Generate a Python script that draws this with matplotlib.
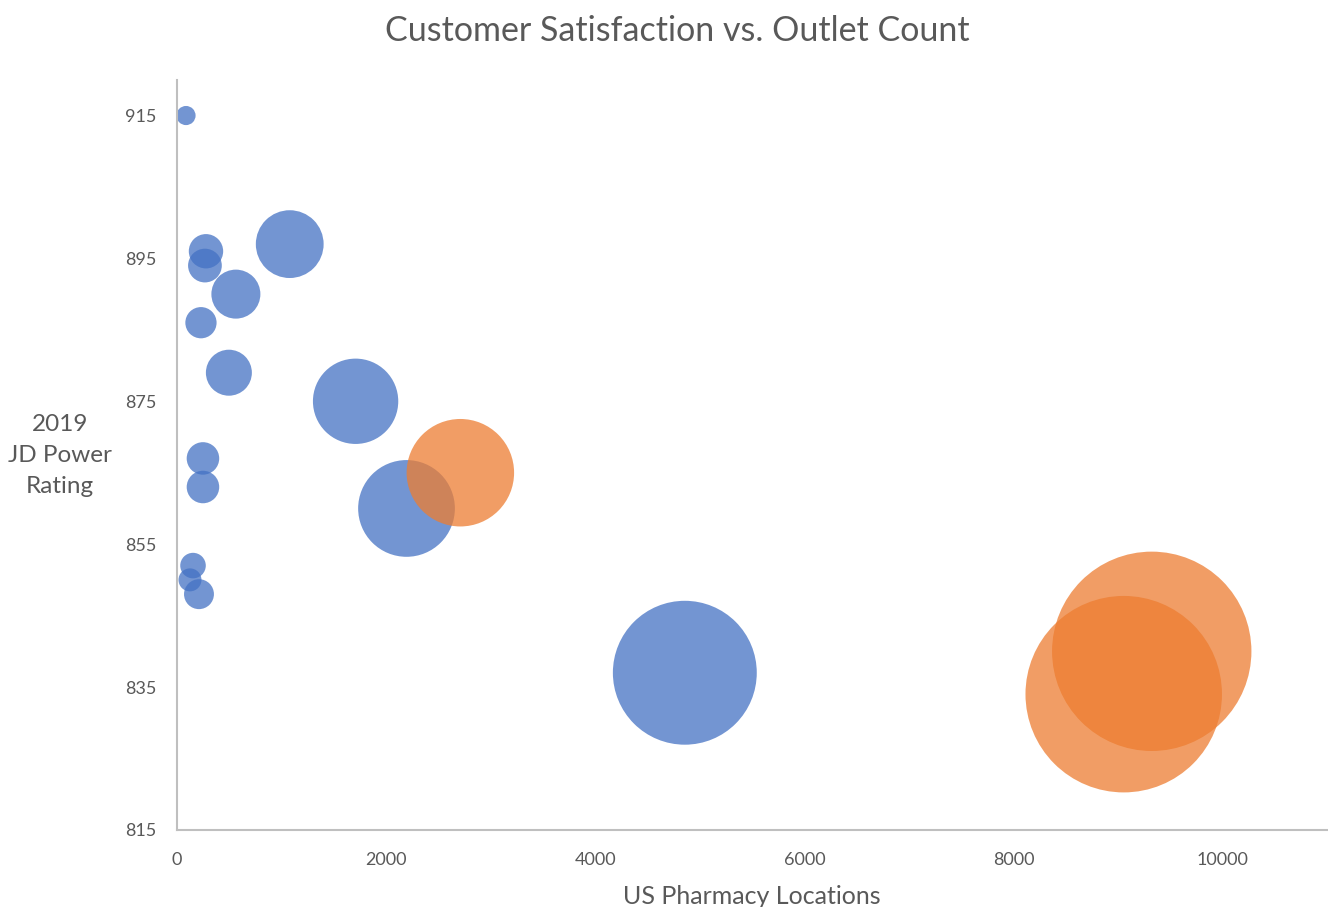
import numpy as np
import matplotlib
matplotlib.use("Agg")
from matplotlib import pyplot as plt

# data (bubble size = number of locations)
blue_locations = [86, 277, 267, 1078, 563, 229, 496, 1708, 248, 248, 2195, 153, 124, 210, 4857]
blue_rating = [915, 896, 894, 897, 890, 886, 879, 875, 867, 863, 860, 852, 850, 848, 837]
orange_locations = [2710, 9323, 9055]
orange_rating = [865, 840, 834]

x_ticks = [0, 2000, 4000, 6000, 8000, 10000]
y_ticks = [815, 835, 855, 875, 895, 915]

plt.rcParams['font.family'] = ['Lato', 'DejaVu Sans']
grey = "#595959"

fig = plt.figure(figsize=(13.28, 9.07), dpi=100)
ax = fig.add_axes([0.1333, 0.085, 0.866, 0.827])

size_scale = 2.21  # points^2 per location
ax.scatter(blue_locations, blue_rating, s=np.array(blue_locations) * size_scale,
           color="#4472C4", alpha=0.75, linewidths=0, zorder=2)
ax.scatter(orange_locations, orange_rating, s=np.array(orange_locations) * size_scale,
           color="#ED7D31", alpha=0.75, linewidths=0, zorder=3)

ax.set_xlim(0, 11000)
ax.set_ylim(815, 920)
ax.set_xticks(x_ticks)
ax.set_yticks(y_ticks)
ax.tick_params(length=0, labelsize=13, colors=grey)
ax.tick_params(axis="x", pad=16)
ax.tick_params(axis="y", pad=15)
for s in ["top", "right"]:
    ax.spines[s].set_visible(False)
for s in ["left", "bottom"]:
    ax.spines[s].set_color("#BFBFBF")
    ax.spines[s].set_linewidth(1.5)

ax.set_xlabel("US Pharmacy Locations", fontsize=18, color=grey, labelpad=12)
fig.text(0.045, 0.498, "2019\nJD Power\nRating", fontsize=17.5, color=grey,
         ha="center", va="center", linespacing=1.6)
fig.suptitle("Customer Satisfaction vs. Outlet Count", fontsize=24.5, color=grey,
             x=0.51, y=0.984)

plt.savefig("out.png", dpi=100)
